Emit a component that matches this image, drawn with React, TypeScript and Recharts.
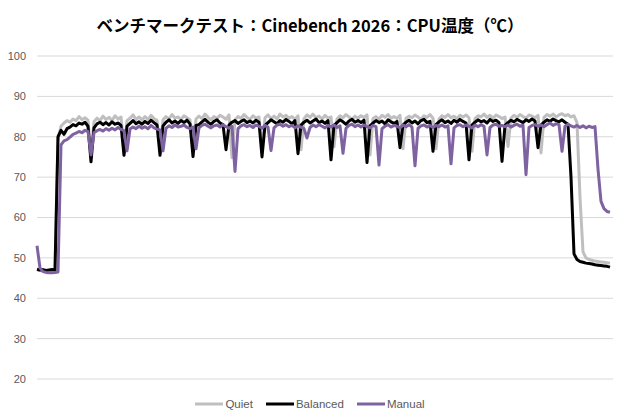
import React from 'react';
import { LineChart, Line, XAxis, YAxis, CartesianGrid, Legend } from 'recharts';

const title = 'ベンチマークテスト：Cinebench 2026：CPU温度（℃）';

const seriesNames = ['Quiet', 'Balanced', 'Manual'];
const seriesColors = ['#bfbfbf', '#000000', '#7f63a1'];

const yTicks = [20, 30, 40, 50, 60, 70, 80, 90, 100];

// one reading about every 3px of the original plot
const quiet = [
  47.0, 46.9, 46.8, 46.8, 46.8, 46.8, 46.9, 79.5, 82.6, 83.4, 84.0, 83.6,
  84.4, 84.0, 85.0, 84.2, 84.7, 84.1, 76.0, 83.8, 84.6, 84.0, 85.1, 84.3,
  84.8, 84.0, 85.2, 84.4, 84.9, 77.0, 84.0, 84.6, 85.4, 84.3, 84.9, 84.2,
  85.0, 84.3, 85.3, 84.5, 84.1, 77.0, 84.2, 85.0, 84.4, 85.5, 84.6, 84.9,
  84.3, 85.2, 84.7, 84.2, 77.0, 84.4, 85.1, 84.5, 85.6, 84.8, 84.2, 85.0,
  84.5, 85.3, 84.9, 84.3, 85.4, 74.8, 84.2, 85.0, 84.6, 85.5, 84.8, 84.3,
  85.2, 84.6, 84.9, 77.0, 84.7, 85.4, 84.5, 85.1, 84.4, 85.6, 84.9, 85.3,
  84.6, 85.0, 84.3, 85.2, 76.8, 84.5, 85.4, 84.8, 85.6, 84.7, 85.1, 84.4,
  85.3, 84.6, 84.9, 77.5, 84.4, 85.2, 84.7, 85.5, 84.9, 84.3, 85.1, 84.6,
  85.2, 84.8, 85.4, 75.5, 84.5, 85.0, 84.4, 85.3, 84.8, 85.5, 84.6, 85.0,
  84.5, 85.3, 77.0, 84.6, 85.1, 84.7, 85.4, 84.9, 84.3, 85.2, 84.8, 85.5,
  84.6, 77.0, 84.4, 85.2, 84.8, 85.5, 84.7, 85.1, 84.5, 85.3, 84.9, 85.4,
  84.7, 76.4, 84.5, 85.2, 84.9, 85.6, 84.8, 85.3, 84.6, 85.4, 85.0, 84.5,
  84.9, 77.6, 84.6, 85.3, 84.8, 85.5, 85.0, 84.6, 85.4, 85.1, 84.7, 85.3,
  76.0, 84.8, 85.5, 85.1, 85.6, 84.9, 85.4, 85.7, 85.2, 85.5, 84.9, 85.2,
  83.5, 65.0, 51.5, 50.0, 49.6, 49.4, 49.2, 49.1, 49.0, 48.9, 48.8, 48.7,
];

const balanced = [
  47.2, 47.0, 47.1, 46.9, 47.0, 47.1, 47.0, 80.0, 81.6, 80.6, 82.0, 82.4,
  83.0, 82.7, 83.4, 83.1, 83.6, 82.6, 73.8, 82.2, 83.2, 83.6, 83.0, 83.5,
  82.9, 83.7, 83.1, 83.4, 82.8, 75.4, 82.6, 83.3, 84.0, 83.2, 83.7, 83.1,
  83.8, 83.3, 84.1, 83.5, 82.9, 75.4, 82.7, 83.6, 84.2, 83.4, 83.9, 83.3,
  84.0, 83.5, 84.1, 83.2, 75.1, 82.8, 83.0, 83.7, 84.3, 83.6, 83.1, 83.8,
  84.2, 83.4, 83.0, 76.8, 82.9, 83.6, 84.0, 83.3, 83.8, 84.2, 83.5, 83.9,
  83.4, 84.1, 83.6, 75.0, 82.8, 83.5, 84.2, 83.7, 83.2, 84.0, 83.6, 84.3,
  83.8, 83.2, 84.0, 75.8, 82.9, 83.6, 84.1, 83.4, 83.9, 84.4, 83.5, 83.9,
  83.3, 84.0, 74.3, 82.8, 83.5, 84.2, 83.7, 83.1, 83.9, 84.3, 83.6, 84.0,
  83.5, 84.1, 73.6, 82.7, 83.4, 84.0, 83.5, 83.9, 83.2, 84.2, 83.7, 83.3,
  83.8, 77.3, 82.9, 83.6, 84.1, 83.4, 83.9, 83.2, 84.0, 84.3, 83.5, 83.8,
  76.4, 83.0, 83.7, 84.2, 83.5, 83.9, 83.3, 84.1, 83.6, 84.3, 83.8, 83.4,
  74.3, 82.9, 83.6, 84.2, 83.7, 84.0, 83.4, 84.3, 83.8, 84.1, 83.5, 73.9,
  82.8, 83.5, 84.1, 83.7, 84.3, 83.9, 83.5, 84.2, 83.8, 84.4, 83.9, 77.3,
  82.9, 83.6, 84.2, 83.8, 84.4, 84.0, 83.7, 84.2, 83.6, 83.1, 70.0, 51.0,
  49.6, 49.1, 48.9, 48.7, 48.6, 48.5, 48.3, 48.2, 48.1, 48.0, 47.9, 47.7,
];

const manual = [
  53.0, 47.5, 46.6, 46.4, 46.3, 46.3, 46.4, 46.5, 78.0, 79.0, 79.3, 79.9,
  80.6, 80.9, 81.3, 81.0, 81.6, 81.3, 75.5, 81.0, 81.5, 81.8, 81.4, 82.0,
  81.6, 82.1, 81.7, 82.3, 81.8, 81.5, 76.5, 81.9, 82.4, 82.0, 82.6, 82.1,
  82.5, 82.0, 82.8, 82.2, 81.9, 81.7, 76.5, 82.1, 82.7, 82.3, 82.9, 82.4,
  82.6, 82.9, 82.3, 82.0, 82.4, 77.0, 82.2, 82.8, 83.1, 82.6, 82.2, 82.7,
  82.9, 82.4, 83.0, 82.5, 82.1, 82.6, 71.4, 82.0, 82.7, 83.0, 82.5, 82.8,
  82.3, 82.9, 82.6, 82.1, 82.8, 82.4, 76.6, 82.2, 82.9, 83.1, 82.6, 83.0,
  82.5, 82.8, 82.2, 82.7, 82.4, 82.0, 79.7, 82.3, 82.9, 82.5, 83.0, 82.6,
  82.2, 82.8, 82.4, 82.9, 82.3, 82.7, 75.9, 82.1, 82.8, 83.1, 82.5, 82.9,
  82.4, 82.9, 82.5, 82.2, 82.8, 82.5, 73.0, 82.0, 82.6, 83.0, 82.4, 82.8,
  82.6, 82.2, 82.9, 82.5, 83.0, 82.4, 72.8, 82.1, 82.7, 82.9, 82.4, 82.8,
  82.3, 82.8, 82.5, 82.9, 82.4, 82.7, 73.3, 82.2, 82.8, 83.0, 82.5, 82.9,
  82.6, 82.2, 82.9, 82.5, 83.0, 82.6, 75.5, 82.3, 82.9, 83.1, 82.6, 82.8,
  82.5, 82.9, 82.4, 82.8, 83.1, 82.6, 82.9, 70.6, 82.3, 82.8, 83.0, 82.6,
  82.9, 82.5, 83.0, 83.4, 82.8, 83.2, 83.0, 76.4, 82.6, 83.1, 82.7, 82.4,
  82.8, 82.3, 82.7, 82.2, 82.6, 82.3, 82.5, 72.0, 64.0, 62.2, 61.5, 61.3,
];

const data = quiet.map((q, i) => ({
  t: i,
  Quiet: q,
  Balanced: balanced[i],
  Manual: manual[i],
}));

const font = '"Liberation Sans", Arial, sans-serif';

const renderLegend = (props: any) => {
  const payload = [...(props.payload || [])].sort(
    (a: any, b: any) => seriesNames.indexOf(a.value) - seriesNames.indexOf(b.value)
  );
  return (
    <div style={{ display: 'flex', justifyContent: 'center', height: 20, alignItems: 'center', paddingLeft: 20 }}>
      {payload.map((entry: any) => (
        <div key={entry.value} style={{ display: 'flex', alignItems: 'center', marginRight: 13 }}>
          <svg width={28} height={6} style={{ marginRight: 2 }}>
            <line x1={0} y1={3} x2={28} y2={3} stroke={entry.color} strokeWidth={3} />
          </svg>
          <span style={{ fontFamily: font, fontSize: 11.5, color: '#595959' }}>{entry.value}</span>
        </div>
      ))}
    </div>
  );
};

export default function App() {
  return (
    <div style={{ position: 'absolute', left: 0, top: 0, width: 620, height: 420, background: '#fff' }}>
      <div
        style={{
          position: 'absolute',
          top: 13,
          left: 0,
          width: 620,
          textAlign: 'center',
          fontFamily: '"Noto Sans CJK JP", sans-serif',
          fontWeight: 700,
          fontSize: 16.5,
          color: '#000',
        }}
      >
        {title}
      </div>
      <LineChart width={620} height={420} data={data} margin={{ top: 56, right: 7, bottom: 21, left: 0 }}>
        <CartesianGrid vertical={false} stroke="#d9d9d9" />
        <XAxis dataKey="t" hide padding={{ left: 0, right: 3 }} />
        <YAxis
          domain={[20, 100]}
          ticks={yTicks}
          width={37}
          axisLine={false}
          tickLine={false}
          tickMargin={5}
          tick={{ fontSize: 11, fill: '#595959', fontFamily: font }}
        />
        <Legend verticalAlign="bottom" content={renderLegend} wrapperStyle={{ bottom: 6 }} />
        {seriesNames.map((name, k) => (
          <Line
            key={name}
            dataKey={name}
            type="linear"
            stroke={seriesColors[k]}
            strokeWidth={3}
            dot={false}
            strokeLinejoin="round"
            isAnimationActive={false}
          />
        ))}
      </LineChart>
    </div>
  );
}
